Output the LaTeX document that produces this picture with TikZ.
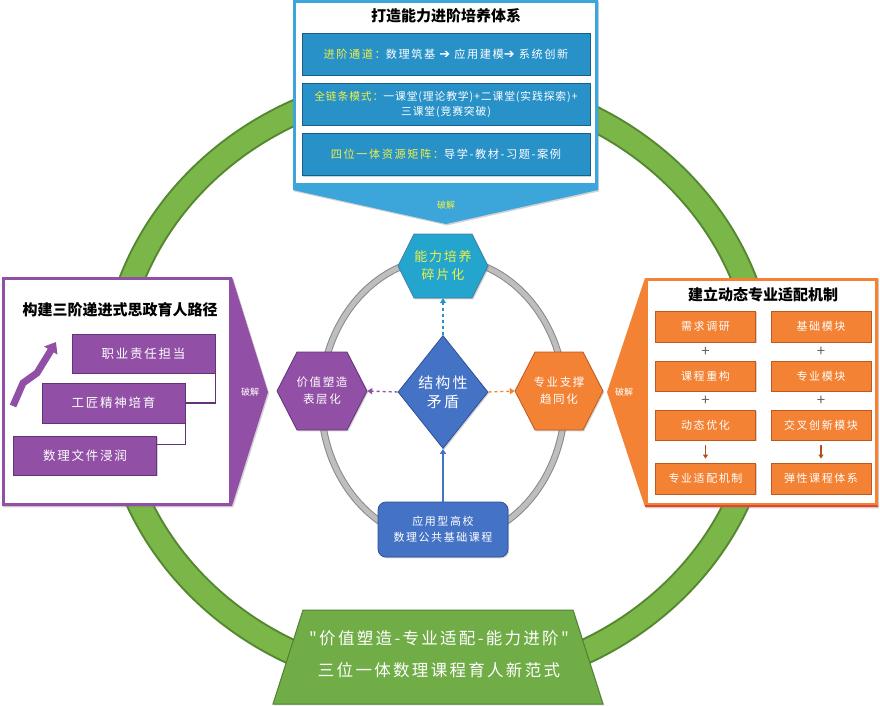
\documentclass[tikz,border=0pt]{standalone}
\usepackage{fontspec}
\setmainfont{Noto Sans CJK SC}
\newfontfamily\cjksp[LetterSpace=14]{Noto Sans CJK SC}
\newfontfamily\cjkspn[LetterSpace=8]{Noto Sans CJK SC}
\newfontfamily\djv{DejaVu Sans}
\usetikzlibrary{shapes.geometric,arrows.meta,calc,shadows}
\definecolor{ringG}{RGB}{122,182,72}
\definecolor{ringD}{RGB}{84,135,48}
\definecolor{topF}{RGB}{60,165,218}
\definecolor{boxB}{RGB}{40,145,200}
\definecolor{boxBD}{RGB}{25,95,135}
\definecolor{purF}{RGB}{145,80,165}
\definecolor{purD}{RGB}{100,50,120}
\definecolor{orF}{RGB}{243,130,52}
\definecolor{orD}{RGB}{190,90,30}
\definecolor{redE}{RGB}{225,70,55}
\definecolor{cyanH}{RGB}{35,165,205}
\definecolor{blueM}{RGB}{68,114,196}
\definecolor{blueD}{RGB}{45,80,150}
\definecolor{grayR}{RGB}{190,190,190}
\definecolor{grayD}{RGB}{135,135,135}
\definecolor{yel}{RGB}{240,240,70}
\definecolor{greenT}{RGB}{112,173,71}
\definecolor{greenD}{RGB}{80,130,50}
\definecolor{plusC}{RGB}{115,95,85}
\definecolor{arrB}{RGB}{175,80,35}
\tikzset{
  shad/.style={drop shadow={shadow xshift=1.2pt,shadow yshift=-1.4pt,opacity=.35}},
  ttl/.style={font=\bfseries\fontsize{15}{18}\selectfont,text=black,inner sep=0},
  bbox/.style={shad,draw=boxBD,fill=boxB,line width=0.8pt,minimum width=288pt,minimum height=42pt,inner sep=0,text=white,align=center,font=\cjksp\fontsize{11.2}{15}\selectfont},
  pbox/.style={shad,draw=purD,fill=purF,line width=0.8pt,minimum width=143pt,minimum height=39pt,inner sep=0,text=white,font=\cjksp\fontsize{12.5}{15}\selectfont},
  obox/.style={shad,draw=orD,fill=orF,line width=0.8pt,minimum width=100pt,minimum height=30pt,inner sep=0,text=white,font=\cjksp\fontsize{11}{14}\selectfont},
  plus/.style={text=plusC,font=\fontsize{15}{15}\selectfont,inner sep=0},
  hexnode/.style={rectangle,inner sep=0,align=center,font=\cjksp\fontsize{11.5}{17}\selectfont},
  pj/.style={font=\fontsize{9}{10}\selectfont,inner sep=0},
  tip/.style={-{Triangle[width=6pt,length=5pt]}},
}
\newcommand{\harr}{{\djv\fontsize{13}{13}\selectfont ➔}}
\begin{document}
\begin{tikzpicture}[x=1pt,y=-1pt]
\useasboundingbox (0,0) rectangle (880,705);
% big green ring
\draw[line width=26pt,ringD] (438,383) ellipse [x radius=326,y radius=301];
\draw[line width=22pt,ringG] (438,383) ellipse [x radius=326,y radius=301];
% ---------- top box ----------
\fill[topF,shad] (293,0) -- (598,0) -- (598,190) -- (446,224) -- (293,190) -- cycle;
\fill[white] (296,3) rectangle (595,183);
\node[ttl] (ttitle) at (446,16) {打造能力进阶培养体系};
\node[bbox] (t1) at (446,54) {{\color{yel}进阶通道：}数理筑基 \harr{} 应用建模\harr{} 系统创新};
\node[bbox,font=\cjkspn\fontsize{10.8}{15}\selectfont] (t2) at (446,104) {{\color{yel}全链条模式：}一课堂(理论教学)+二课堂(实践探索)+\\三课堂(竞赛突破)};
\node[bbox] (t3) at (446,154.5) {{\color{yel}四位一体资源矩阵：}导学-教材-习题-案例};
\node[pj,text=yel] (pj1) at (446,205) {破解};
% ---------- left box ----------
\fill[purF,shad] (2,277) -- (232,277) -- (268,392) -- (232,506) -- (2,506) -- cycle;
\fill[white] (5,280) rectangle (229,503);
\node[ttl] (ltitle) at (120,310) {构建三阶递进式思政育人路径};
\node[pbox] (p1) at (143.5,353.5) {职业责任担当};
\node[pbox,minimum height=40pt] (p2) at (113.5,403) {工匠精神培育};
\node[pbox] (p3) at (85,455.5) {数理文件浸润};
\draw[purD,line width=1.3pt] (p1.south east) |- (p2.east);
\draw[purD,line width=1.3pt] (p2.south east) |- ($(p3.north east)+(0,9)$);
\coordinate (za) at (13,406);
\coordinate (zb) at (23,383);
\coordinate (zc) at (37,373);
\coordinate (zd) at (56,342);
\draw[purF,line width=7pt,line join=miter,-{Triangle[width=15pt,length=10pt]}] (za) -- (zb) -- (zc) -- (zd);
\node[pj,text=white] (pj2) at (250,392) {破解};
% ---------- right box ----------
\fill[orF,shad] (645,278) -- (878,278) -- (878,507) -- (645,507) -- (607,392) -- cycle;
\fill[white] (648,281) rectangle (875,503);
\draw[redE,line width=2.5pt] (645,506) -- (878,506);
\node[ttl] (rtitle) at (763,295) {建立动态专业适配机制};
\node[obox,minimum height=31pt] (a1) at (705.5,326.5) {需求调研};
\node[obox] (a2) at (705.5,376) {课程重构};
\node[obox] (a3) at (705.5,425) {动态优化};
\node[obox,minimum height=31pt] (a4) at (705.5,478.5) {专业适配机制};
\node[obox,minimum height=31pt] (b1) at (821,326.5) {基础模块};
\node[obox] (b2) at (821,376) {专业模块};
\node[obox] (b3) at (821,425) {交叉创新模块};
\node[obox,minimum height=31pt] (b4) at (821,478.5) {弹性课程体系};
\node[plus] (pa1) at (705.5,352) {+};
\node[plus] (pb1) at (821,352) {+};
\node[plus] (pa2) at (705.5,400.5) {+};
\node[plus] (pb2) at (821,400.5) {+};
\draw[arrB,line width=1.4pt,-{Triangle[width=5pt,length=4pt]},shorten <=5pt,shorten >=4pt] (a3.south) -- (a4.north);
\draw[arrB,line width=1.4pt,-{Triangle[width=5pt,length=4pt]},shorten <=5pt,shorten >=4pt] (b3.south) -- (b4.north);
\node[pj,text=white] (pj3) at (624,392) {破解};
% ---------- center ----------
\draw[line width=7pt,grayD] (443,400) ellipse [x radius=122,y radius=142];
\draw[line width=5pt,grayR] (443,400) ellipse [x radius=122,y radius=142];
% top hexagon
\filldraw[fill=cyanH,draw=boxBD!80,line width=0.8pt,shad] (398,266) -- (414,234) -- (472,234) -- (488,266) -- (472,298) -- (414,298) -- cycle;
\node[hexnode,text=yel,minimum width=90pt,minimum height=64pt,font=\cjksp\fontsize{13}{18}\selectfont] (th) at (443,266) {能力培养\\碎片化};
% left hexagon
\filldraw[fill=purF,draw=purD,line width=0.8pt,shad] (277,391) -- (297,352) -- (347,352) -- (367,391) -- (347,430) -- (297,430) -- cycle;
\node[hexnode,text=white,minimum width=90pt,minimum height=78pt] (lh) at (322,391) {价值塑造\\表层化};
% right hexagon
\filldraw[fill=orF,draw=orD,line width=0.8pt,shad] (515,391) -- (535,352) -- (583,352) -- (603,391) -- (583,430) -- (535,430) -- cycle;
\node[hexnode,text=white,minimum width=88pt,minimum height=78pt] (rh) at (559,391) {专业支撑\\趋同化};
% diamond
\node[diamond,shad,fill=blueM,draw=blueD,line width=0.8pt,minimum width=90pt,minimum height=113pt,inner sep=0,text=white,align=center,font=\cjksp\fontsize{15}{19}\selectfont] (dm) at (443,392) {结构性\\矛盾};
% bottom box
\node[rectangle,rounded corners=8pt,shad,fill=blueM,draw=blueD,line width=0.8pt,minimum width=130pt,minimum height=55pt,inner sep=0,text=white,align=center,font=\cjksp\fontsize{11}{16}\selectfont] (bb) at (443,529.5) {应用型高校\\数理公共基础课程};
% arrows
\draw[dashed,boxB,line width=1.4pt,tip] (dm.north) -- (th.south);
\draw[dashed,purF,line width=1.4pt,tip] (dm.west) -- (lh.east);
\draw[dashed,orF,line width=1.4pt,tip] (dm.east) -- (rh.west);
\draw[blueM,line width=1.6pt,tip] (bb.north) -- (dm.south);
% ---------- bottom trapezoid ----------
\filldraw[fill=greenT,draw=greenD,line width=1pt,shad] (303,610) -- (573,610) -- (603,704) -- (273,704) -- cycle;
\node[text=white,inner sep=0,font=\cjksp\fontsize{16.5}{20}\selectfont] (g1) at (439,638) {"价值塑造-专业适配-能力进阶"};
\node[text=white,inner sep=0,font=\cjksp\fontsize{16.5}{20}\selectfont] (g2) at (439,670) {三位一体数理课程育人新范式};
\end{tikzpicture}
\end{document}
